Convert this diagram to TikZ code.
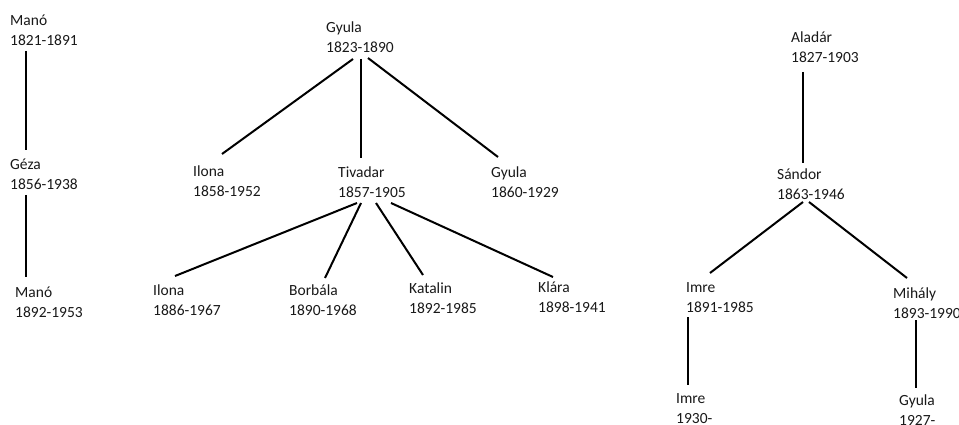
\documentclass[tikz,border=0pt]{standalone}
\usepackage{fontspec}
\setmainfont{Carlito}
\newcommand{\pers}[2]{\vtop{\baselineskip=20pt\hbox{#1}\hbox{#2}}}
\tikzset{
  person/.style={anchor=base west, inner sep=0pt, font=\fontsize{15.5}{20}\selectfont, text=black!90},
  link/.style={line width=2pt, black}
}
\begin{document}
\begin{tikzpicture}[x=1pt,y=-1pt]
\useasboundingbox (0,0) rectangle (959,425);
\fill[white] (0,0) rectangle (959,425);
% nodes
\node[person] (m1) at (10,26) {\pers{Manó}{1821-1891}};
\node[person] (geza) at (10,170) {\pers{Géza}{1856-1938}};
\node[person] (m2) at (15,297) {\pers{Manó}{1892-1953}};
\node[person] (gy1) at (326,33) {\pers{Gyula}{1823-1890}};
\node[person] (il1) at (193,177) {\pers{Ilona}{1858-1952}};
\node[person] (tiv) at (338,178) {\pers{Tivadar}{1857-1905}};
\node[person] (gy2) at (491,178) {\pers{Gyula}{1860-1929}};
\node[person] (il2) at (153,295) {\pers{Ilona}{1886-1967}};
\node[person] (borb) at (289,295) {\pers{Borbála}{1890-1968}};
\node[person] (kat) at (409,293) {\pers{Katalin}{1892-1985}};
\node[person] (klara) at (538,292) {\pers{Klára}{1898-1941}};
\node[person] (alad) at (791,43) {\pers{Aladár}{1827-1903}};
\node[person] (sand) at (777,180) {\pers{Sándor}{1863-1946}};
\node[person] (imre1) at (686,292) {\pers{Imre}{1891-1985}};
\node[person] (mih) at (893,298) {\pers{Mihály}{1893-1990}};
\node[person] (imre2) at (676,403) {\pers{Imre}{1930-}};
\node[person] (gy3) at (899,405) {\pers{Gyula}{1927-}};
% connectors
\draw[link] ([shift={(16,25)}]m1.base west) -- ([shift={(16,-20)}]geza.base west);
\draw[link] ([shift={(16,25)}]geza.base west) -- ([shift={(11,-20)}]m2.base west);
\draw[link] ([shift={(27,26)}]gy1.base west) -- ([shift={(29,-23)}]il1.base west);
\draw[link] ([shift={(35,26)}]gy1.base west) -- ([shift={(23,-20)}]tiv.base west);
\draw[link] ([shift={(42,25)}]gy1.base west) -- ([shift={(7,-21)}]gy2.base west);
\draw[link] ([shift={(19,25)}]tiv.base west) -- ([shift={(22,-19)}]il2.base west);
\draw[link] ([shift={(23,25)}]tiv.base west) -- ([shift={(36,-17)}]borb.base west);
\draw[link] ([shift={(38,25)}]tiv.base west) -- ([shift={(14,-18)}]kat.base west);
\draw[link] ([shift={(53,25)}]tiv.base west) -- ([shift={(15,-15)}]klara.base west);
\draw[link] ([shift={(12,29)}]alad.base west) -- ([shift={(26,-17)}]sand.base west);
\draw[link] ([shift={(26,22)}]sand.base west) -- ([shift={(24,-19)}]imre1.base west);
\draw[link] ([shift={(32,22)}]sand.base west) -- ([shift={(14,-20)}]mih.base west);
\draw[link] ([shift={(2,25)}]imre1.base west) -- ([shift={(12,-18)}]imre2.base west);
\draw[link] ([shift={(23,22)}]mih.base west) -- ([shift={(17,-17)}]gy3.base west);
\end{tikzpicture}
\end{document}
